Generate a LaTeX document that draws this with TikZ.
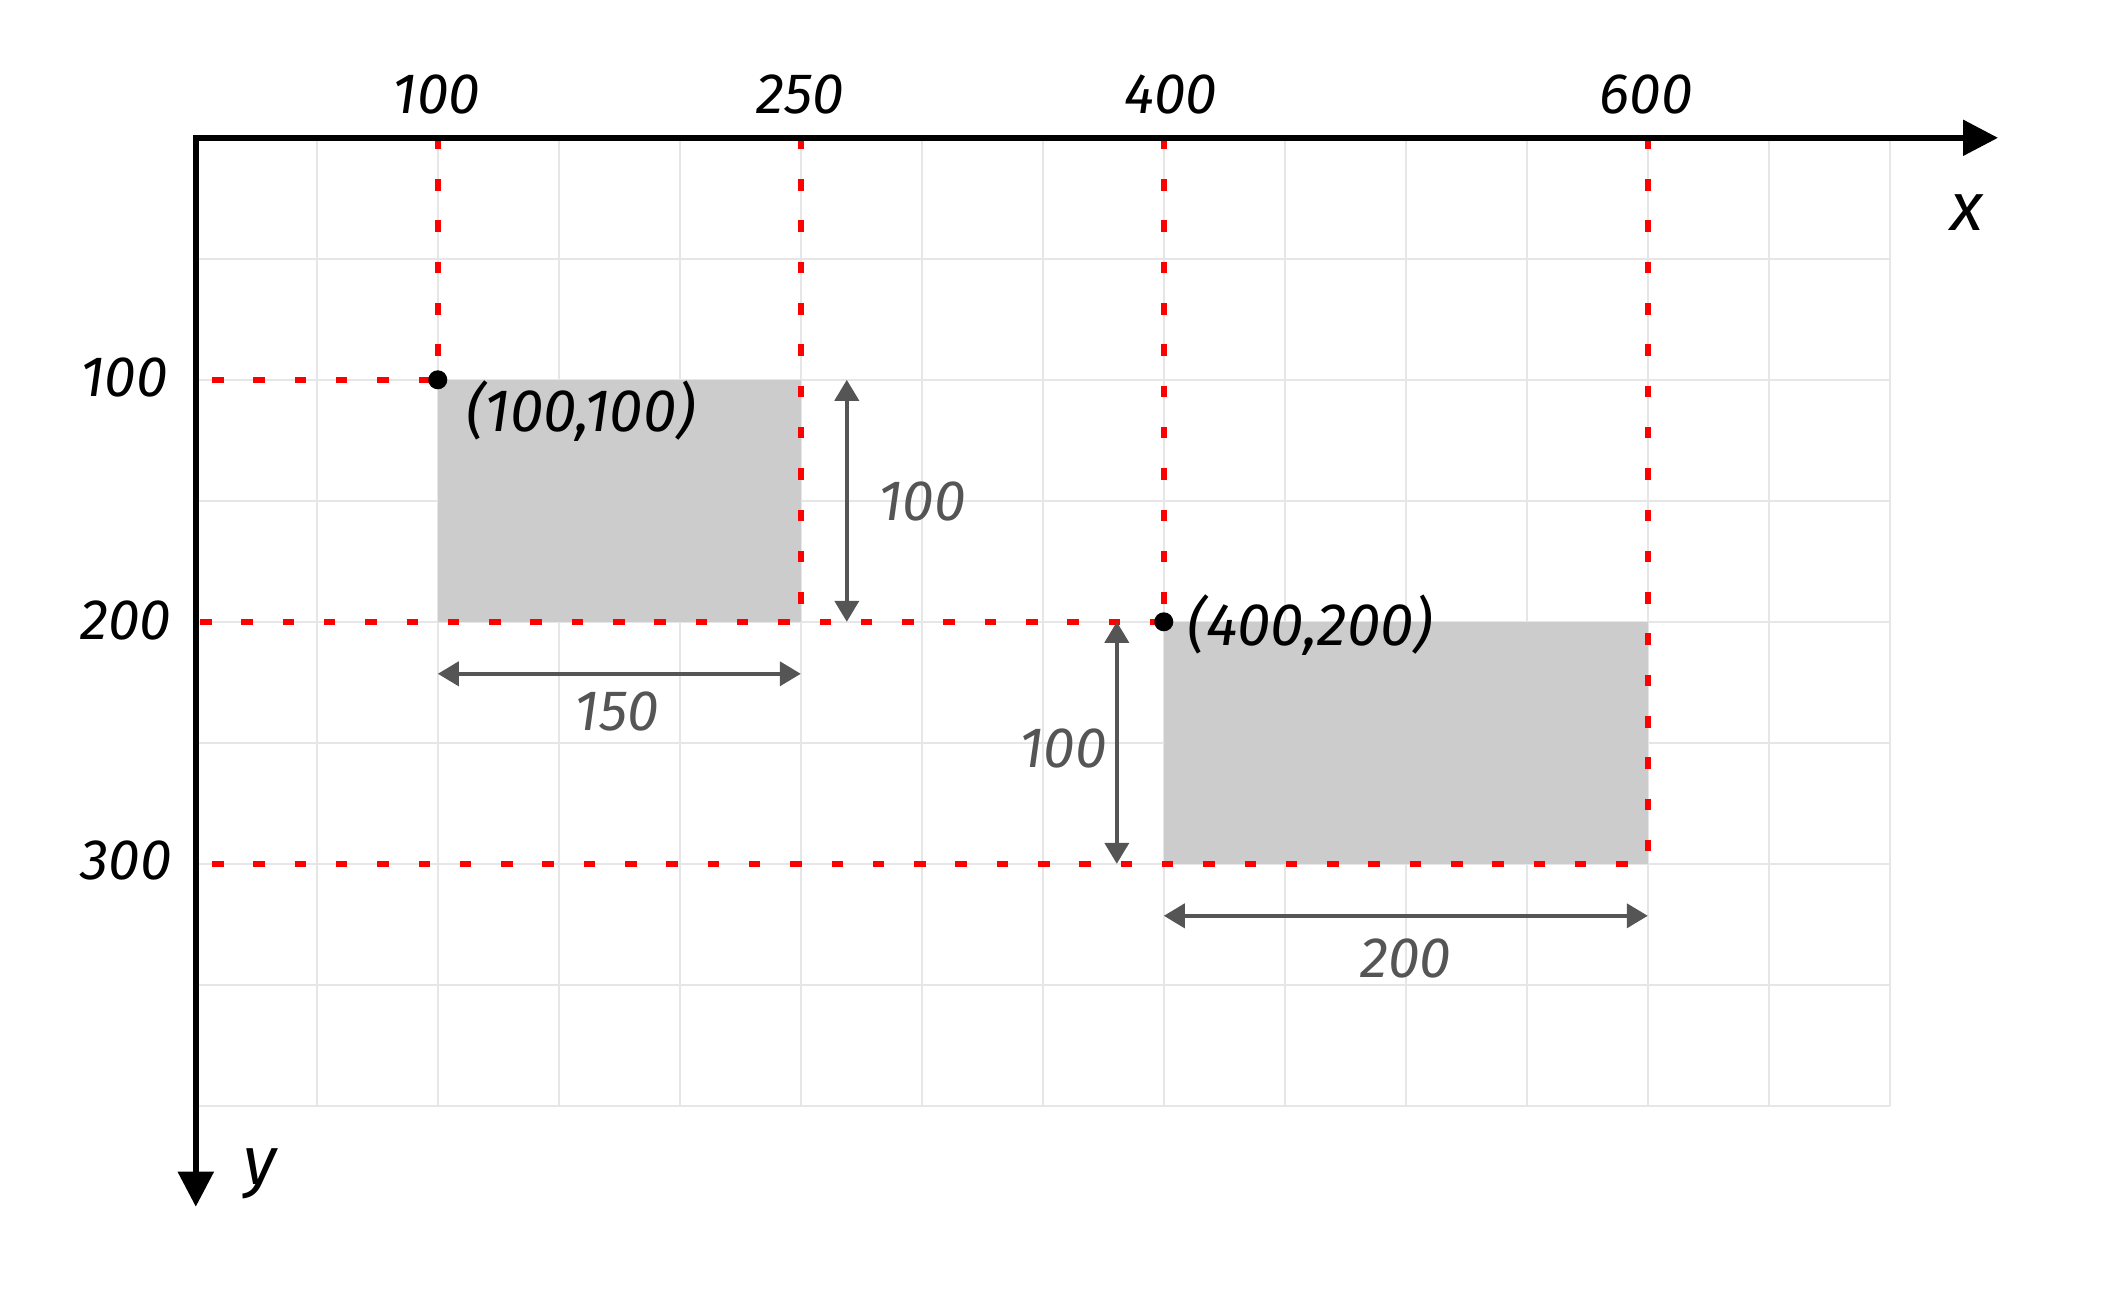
\documentclass[tikz,border=0pt]{standalone}
\usepackage{fontspec}
\setmainfont{Fira Sans}
\usetikzlibrary{arrows.meta}
\definecolor{gridc}{HTML}{E6E6E6}
\definecolor{rectc}{HTML}{CCCCCC}
\definecolor{dimc}{HTML}{555555}
\definecolor{redc}{HTML}{FF0000}
\begin{document}
\begin{tikzpicture}[x=1pt,y=-1pt,
 gridline/.style={draw=gridc,line width=2pt},
 shaded/.style={fill=rectc,inner sep=0pt,outer sep=0pt,anchor=north west},
 guide/.style={draw=redc,line width=6pt,dash pattern=on 11.5pt off 29.8pt},
 axisline/.style={line width=5.5pt,line join=miter,{Triangle[length=35pt,width=35pt]}-{Triangle[length=35pt,width=35pt]}},
 dimarrow/.style={draw=dimc,line width=4pt,{Triangle[length=21pt,width=24pt]}-{Triangle[length=21pt,width=24pt]}},
 lbl/.style={font=\fontsize{57}{64}\selectfont\itshape,inner sep=0pt,anchor=base},
 coordlbl/.style={lbl,font=\fontsize{60}{66}\selectfont\itshape},
 axislbl/.style={lbl,font=\fontsize{68}{74}\selectfont\itshape},
 dimlbl/.style={lbl,text=dimc},
 ptdot/.style={circle,fill=black,inner sep=0pt,minimum size=19pt}
]
\useasboundingbox (0,0) rectangle (2118,1294);
% grid
\foreach \i in {1,...,14} {\draw[gridline] (195.8+121*\i,137.8) -- (195.8+121*\i,1105.8);}
\foreach \j in {1,...,8} {\draw[gridline] (195.8,137.8+121*\j) -- (1889.8,137.8+121*\j);}
% origin and guide starts
\coordinate (O) at (195.8,137.8);
\coordinate (g1) at (212,379.8);
\coordinate (g2) at (200,621.8);
\coordinate (g3) at (212,863.8);
% rectangles
\node[shaded,minimum width=363pt,minimum height=242pt] (r1) at (437.8,379.8) {};
\node[shaded,minimum width=484pt,minimum height=242pt] (r2) at (1163.8,621.8) {};
% red guides
\draw[guide] (r1.north west |- O) -- (r1.north west);
\draw[guide] (r1.north east |- O) -- (r1.south east);
\draw[guide] (r2.north west |- O) -- (r2.north west);
\draw[guide] (r2.north east |- O) -- (r2.south east);
\draw[guide] (g1) -- (r1.north west);
\draw[guide] (g2) -- (r2.north west);
\draw[guide] (g3) -- (r2.south east);
% axes
\coordinate (xend) at (1998,137.8);
\coordinate (yend) at (195.8,1206.7);
\draw[axisline] (xend) -- (O) -- (yend);
% dimension arrows
\draw[dimarrow] ([yshift=-52pt]r1.south west) -- ([yshift=-52pt]r1.south east);
\draw[dimarrow] ([xshift=46pt]r1.north east) -- ([xshift=46pt]r1.south east);
\draw[dimarrow] ([xshift=-47pt]r2.north west) -- ([xshift=-47pt]r2.south west);
\draw[dimarrow] ([yshift=-52pt]r2.south west) -- ([yshift=-52pt]r2.south east);
% points
\node[ptdot] (p1) at (r1.north west) {};
\node[ptdot] (p2) at (r2.north west) {};
% labels
\node[lbl] (tx100) at (436.5,113) {100};
\node[lbl] (tx250) at (800.4,113) {250};
\node[lbl] (tx400) at (1170.8,113) {400};
\node[lbl] (tx600) at (1646.4,113) {600};
\node[lbl] (ty100) at (124,396) {100};
\node[lbl] (ty200) at (126,639) {200};
\node[lbl] (ty300) at (126,879) {300};
\node[axislbl] (xlab) at (1967,230) {x};
\node[axislbl] (ylab) at (260,1184) {y};
\node[coordlbl] (c1) at (581,431) {(100,100)};
\node[coordlbl] (c2) at (1310,645) {(400,200)};
\node[dimlbl] (d150) at (617,730) {150};
\node[dimlbl] (d100a) at (922,520) {100};
\node[dimlbl] (d100b) at (1063,767) {100};
\node[dimlbl] (d200) at (1406,977) {200};
\end{tikzpicture}
\end{document}
